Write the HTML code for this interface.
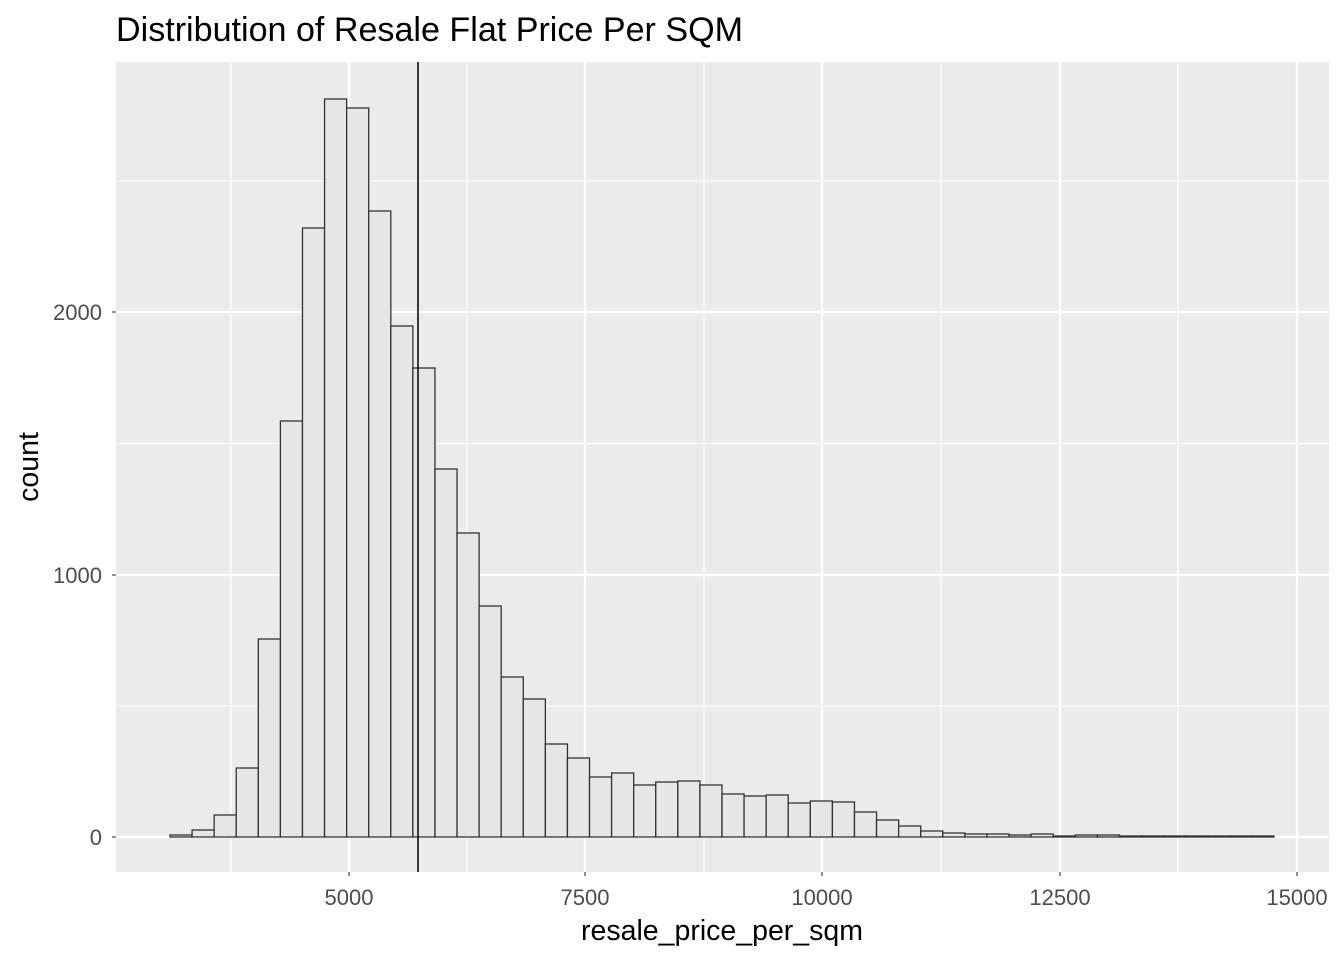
<!DOCTYPE html>
<html><head><meta charset="utf-8"><style>body{margin:0;background:#fff}svg{display:block}</style></head><body>
<svg width="1344" height="960" xmlns="http://www.w3.org/2000/svg" font-family="Liberation Sans, Arial, sans-serif">
<rect width="1344" height="960" fill="#fff"/>
<rect x="116" y="62" width="1213" height="810" fill="#ebebeb"/>
<g stroke="#fff" stroke-width="1.1">
<line x1="231" y1="62" x2="231" y2="872"/><line x1="467" y1="62" x2="467" y2="872"/><line x1="704" y1="62" x2="704" y2="872"/><line x1="941" y1="62" x2="941" y2="872"/><line x1="1178" y1="62" x2="1178" y2="872"/>
<line x1="116" y1="181" x2="1329" y2="181"/><line x1="116" y1="443.5" x2="1329" y2="443.5"/><line x1="116" y1="706" x2="1329" y2="706"/>
</g>
<g stroke="#fff" stroke-width="2.2">
<line x1="349" y1="62" x2="349" y2="872"/><line x1="585" y1="62" x2="585" y2="872"/><line x1="822" y1="62" x2="822" y2="872"/><line x1="1060" y1="62" x2="1060" y2="872"/><line x1="1297" y1="62" x2="1297" y2="872"/>
<line x1="116" y1="312" x2="1329" y2="312"/><line x1="116" y1="575" x2="1329" y2="575"/><line x1="116" y1="837" x2="1329" y2="837"/>
</g>
<g fill="#e6e6e6" stroke="#333" stroke-width="1.3">
<rect x="170.00" y="835" width="22.08" height="2"/>
<rect x="192.08" y="830" width="22.08" height="7"/>
<rect x="214.16" y="815" width="22.08" height="22"/>
<rect x="236.24" y="768" width="22.08" height="69"/>
<rect x="258.32" y="639" width="22.08" height="198"/>
<rect x="280.40" y="421" width="22.08" height="416"/>
<rect x="302.48" y="228" width="22.08" height="609"/>
<rect x="324.56" y="99" width="22.08" height="738"/>
<rect x="346.64" y="108" width="22.08" height="729"/>
<rect x="368.72" y="211" width="22.08" height="626"/>
<rect x="390.80" y="326" width="22.08" height="511"/>
<rect x="412.88" y="368" width="22.08" height="469"/>
<rect x="434.96" y="469" width="22.08" height="368"/>
<rect x="457.04" y="533" width="22.08" height="304"/>
<rect x="479.12" y="606" width="22.08" height="231"/>
<rect x="501.20" y="677" width="22.08" height="160"/>
<rect x="523.28" y="699" width="22.08" height="138"/>
<rect x="545.36" y="744" width="22.08" height="93"/>
<rect x="567.44" y="758" width="22.08" height="79"/>
<rect x="589.52" y="777" width="22.08" height="60"/>
<rect x="611.60" y="773" width="22.08" height="64"/>
<rect x="633.68" y="785" width="22.08" height="52"/>
<rect x="655.76" y="782" width="22.08" height="55"/>
<rect x="677.84" y="781" width="22.08" height="56"/>
<rect x="699.92" y="785" width="22.08" height="52"/>
<rect x="722.00" y="794" width="22.08" height="43"/>
<rect x="744.08" y="796" width="22.08" height="41"/>
<rect x="766.16" y="795" width="22.08" height="42"/>
<rect x="788.24" y="803" width="22.08" height="34"/>
<rect x="810.32" y="801" width="22.08" height="36"/>
<rect x="832.40" y="802" width="22.08" height="35"/>
<rect x="854.48" y="812" width="22.08" height="25"/>
<rect x="876.56" y="820" width="22.08" height="17"/>
<rect x="898.64" y="826" width="22.08" height="11"/>
<rect x="920.72" y="831" width="22.08" height="6"/>
<rect x="942.80" y="833" width="22.08" height="4"/>
<rect x="964.88" y="834" width="22.08" height="3"/>
<rect x="986.96" y="834" width="22.08" height="3"/>
<rect x="1009.04" y="835" width="22.08" height="2"/>
<rect x="1031.12" y="834" width="22.08" height="3"/>
<rect x="1053.20" y="836" width="22.08" height="1"/>
<rect x="1075.28" y="835" width="22.08" height="2"/>
<rect x="1097.36" y="835" width="22.08" height="2"/>
<rect x="1119.44" y="836" width="22.08" height="1"/>
<rect x="1141.52" y="836" width="22.08" height="1"/>
<rect x="1163.60" y="836" width="22.08" height="1"/>
<rect x="1185.68" y="836" width="22.08" height="1"/>
<rect x="1207.76" y="836" width="22.08" height="1"/>
<rect x="1229.84" y="836" width="22.08" height="1"/>
<rect x="1251.92" y="836" width="22.08" height="1"/>
</g>
<line x1="418" y1="62" x2="418" y2="872" stroke="#000" stroke-width="1.5"/>
<g stroke="#333" stroke-width="1.1">
<line x1="112" y1="312" x2="116" y2="312"/><line x1="112" y1="575" x2="116" y2="575"/><line x1="112" y1="837" x2="116" y2="837"/>
<line x1="349" y1="872" x2="349" y2="876"/><line x1="585" y1="872" x2="585" y2="876"/><line x1="822" y1="872" x2="822" y2="876"/><line x1="1060" y1="872" x2="1060" y2="876"/><line x1="1297" y1="872" x2="1297" y2="876"/>
</g>
<g fill="#4d4d4d" font-size="22" text-anchor="end">
<text x="102" y="320">2000</text><text x="102" y="583">1000</text><text x="102" y="845">0</text>
</g>
<g fill="#4d4d4d" font-size="22" text-anchor="middle">
<text x="349" y="905">5000</text><text x="585" y="905">7500</text><text x="822" y="905">10000</text><text x="1060" y="905">12500</text><text x="1297" y="905">15000</text>
</g>
<text x="722" y="940" font-size="28.5" text-anchor="middle" fill="#000">resale_price_per_sqm</text>
<text transform="translate(38,467) rotate(-90)" font-size="28.5" text-anchor="middle" fill="#000">count</text>
<text x="116" y="41" font-size="34" fill="#000" textLength="627" lengthAdjust="spacingAndGlyphs">Distribution of Resale Flat Price Per SQM</text>
</svg>
</body></html>
